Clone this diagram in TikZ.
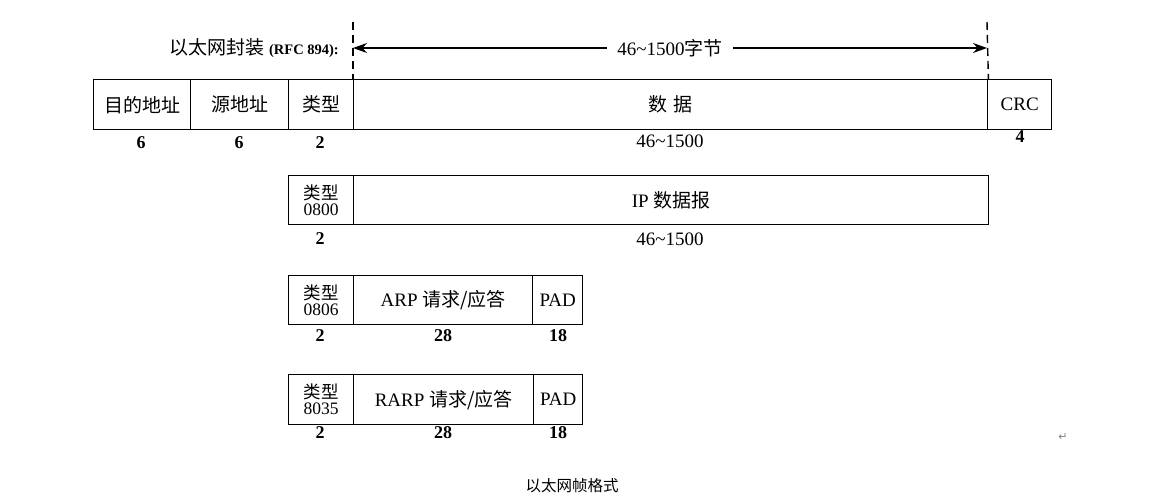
\documentclass[tikz,border=0pt]{standalone}
\usepackage{fontspec}
\setmainfont{Liberation Serif}
\newfontfamily\cjk{Noto Sans CJK SC}
\newfontfamily\djv{DejaVu Sans}
\usetikzlibrary{arrows.meta}
\newcommand{\zh}[1]{{\cjk #1}}
\begin{document}
\begin{tikzpicture}[x=1pt,y=-1pt,
  cell/.style={draw, line width=1.4pt, inner sep=0pt, anchor=north west, align=center,
               font=\fontsize{19}{19}\selectfont},
  typecell/.style={cell, font=\fontsize{17.5}{16}\selectfont},
  num/.style={font=\fontsize{18}{18}\selectfont\bfseries, inner sep=0pt},
  plain/.style={font=\fontsize{19}{19}\selectfont, inner sep=0pt},
  dashv/.style={line width=1.4pt, dash pattern=on 8pt off 5pt},
  dimarrow/.style={line width=1.4pt, {Stealth[length=14pt,width=10pt]}-{Stealth[length=14pt,width=10pt]}}]
\useasboundingbox (0,0) rectangle (1155,498);
\fill[white] (0,0) rectangle (1155,498);

% ---- row 1: Ethernet frame
\node[cell, minimum width=97pt, minimum height=50pt] (dst) at (93,79) {\zh{目的地址}};
\node[cell, minimum width=98pt, minimum height=50pt] (src) at (190,79) {\zh{源地址}};
\node[cell, minimum width=65pt, minimum height=50pt] (typ) at (288,79) {\zh{类型}};
\node[cell, minimum width=634pt, minimum height=50pt] (dat) at (353,79) {\zh{数\hspace{6pt}据}};
\node[cell, minimum width=64pt, minimum height=50pt] (crc) at (987,79) {CRC};

\node[num] (n1) at (141,143) {6};
\node[num] (n2) at (239,143) {6};
\node[num] (n3) at (320,143) {2};
\node[plain] (n4) at (670,141) {46\textasciitilde 1500};
\node[num] (n5) at (1020,137) {4};

% ---- header dimension
\coordinate (dl) at (353,22);
\coordinate (dr) at (987,22);
\draw[dashv] (dl) -- (dat.north west);
\draw[dashv] (dr) -- (dat.north east);
\coordinate (al) at (353,48);
\coordinate (ar) at (987,48);
\draw[dimarrow] (al) -- node[fill=white, inner xsep=10pt, inner ysep=2pt, font=\fontsize{19}{19}\selectfont] (span) {46\textasciitilde 1500\zh{字节}} (ar);
\node[anchor=east, inner sep=0pt] (enc) at (339,48)
  {{\cjk\fontsize{19}{19}\selectfont 以太网封装}\hspace{5pt}{\fontsize{14.5}{14.5}\selectfont\bfseries (RFC 894):}};

% ---- row 2: IP
\node[typecell, minimum width=65pt, minimum height=49pt] (t2) at (288,175) {\zh{类型}\\0800};
\node[cell, minimum width=635pt, minimum height=49pt] (ip) at (353,175) {IP \zh{数据报}};
\node[num] (m1) at (320,239) {2};
\node[plain] (m2) at (670,239) {46\textasciitilde 1500};

% ---- row 3: ARP
\node[typecell, minimum width=65pt, minimum height=49pt] (t3) at (288,275) {\zh{类型}\\0806};
\node[cell, minimum width=179pt, minimum height=49pt] (arp) at (353,275) {ARP \zh{请求/应答}};
\node[cell, minimum width=50pt, minimum height=49pt] (pad3) at (532,275) {PAD};
\node[num] (k1) at (320,336) {2};
\node[num] (k2) at (443,336) {28};
\node[num] (k3) at (558,336) {18};

% ---- row 4: RARP
\node[typecell, minimum width=65pt, minimum height=50pt] (t4) at (288,374) {\zh{类型}\\8035};
\node[cell, minimum width=180pt, minimum height=50pt] (rarp) at (353,374) {RARP \zh{请求/应答}};
\node[cell, minimum width=49pt, minimum height=50pt] (pad4) at (533,374) {PAD};
\node[num] (r1) at (320,433) {2};
\node[num] (r2) at (443,433) {28};
\node[num] (r3) at (558,433) {18};

% ---- caption and mark
\node[inner sep=0pt, font=\cjk\fontsize{15.5}{15.5}\selectfont] (cap) at (572,486) {以太网帧格式};
\node[inner sep=0pt, text=gray, font=\djv\fontsize{11}{11}\selectfont] (ret) at (1063,437) {↵};
\end{tikzpicture}
\end{document}
